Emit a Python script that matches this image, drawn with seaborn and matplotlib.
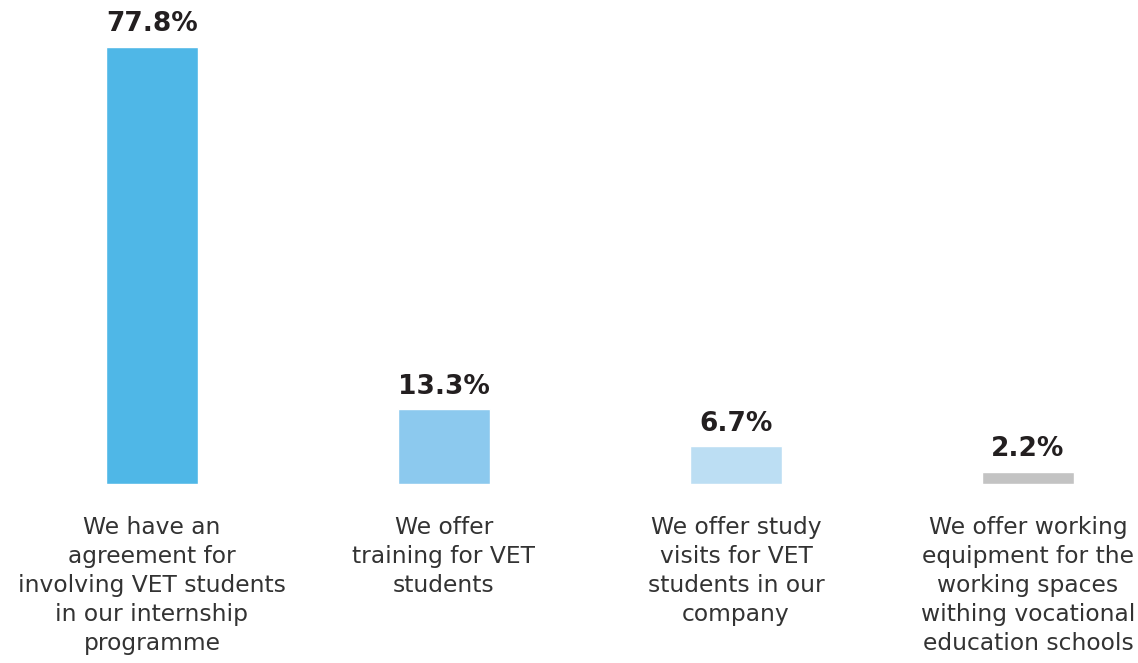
import matplotlib
matplotlib.use("Agg")
import matplotlib.pyplot as plt
import seaborn as sns
import pandas as pd

categories = [
    "We have an\nagreement for\ninvolving VET students\nin our internship\nprogramme",
    "We offer\ntraining for VET\nstudents",
    "We offer study\nvisits for VET\nstudents in our\ncompany",
    "We offer working\nequipment for the\nworking spaces\nwithing vocational\neducation schools",
]
values = [77.8, 13.3, 6.7, 2.2]
value_labels = ["77.8%", "13.3%", "6.7%", "2.2%"]
bar_colors = ["#4fb7e7", "#8cc9ee", "#bcdef3", "#c3c3c3"]

df = pd.DataFrame({"category": categories, "value": values})

sns.set_theme(style="white")
plt.rcParams["font.family"] = ["DejaVu Sans"]

W, H = 1138, 663
fig = plt.figure(figsize=(W / 100, H / 100), dpi=100)
base_px = 484
ax = fig.add_axes([0, (H - base_px) / H, 1, base_px / H])

sns.barplot(data=df, x="category", y="value", hue="category",
            palette=bar_colors, width=0.315, saturation=1,
            legend=False, ax=ax)

ax.set_xlim(-0.5205, 3.377)
ax.set_ylim(0, 86.2)
ax.axis("off")

for i, (v, lab) in enumerate(zip(values, value_labels)):
    ax.annotate(lab, (i, v), xytext=(0, 7), textcoords="offset points",
                ha="center", va="bottom", fontsize=19, fontweight="bold",
                color="#231f20")
    ax.annotate(categories[i], (i, 0), xytext=(0, -23), textcoords="offset points",
                ha="center", va="top", fontsize=16.8, color="#333333",
                linespacing=1.33)

fig.savefig("out.png", dpi=100, facecolor="white")
